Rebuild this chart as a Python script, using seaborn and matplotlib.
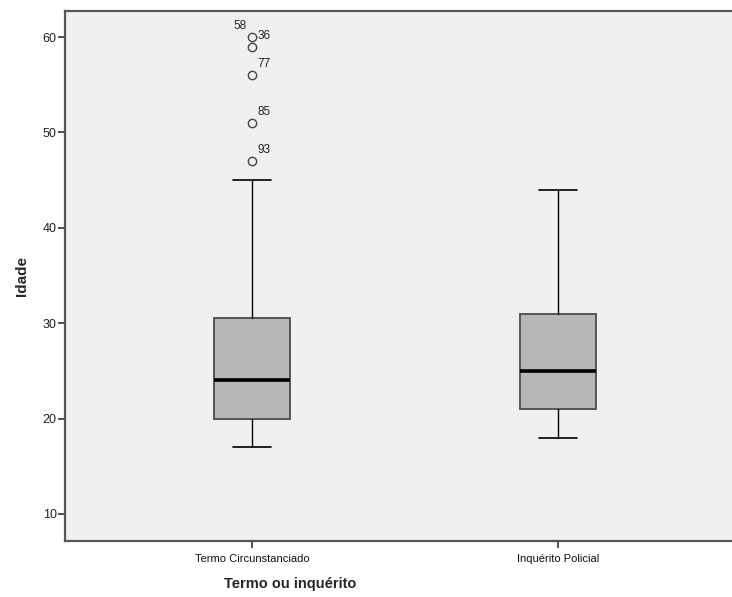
import matplotlib
matplotlib.use("Agg")
import matplotlib.pyplot as plt
import seaborn as sns
from matplotlib import font_manager

# Summary statistics per group (age)
categories = ["Termo Circunstanciado", "Inquérito Policial"]
whisker_low = [17, 18]
q1 = [20, 21]
median = [24, 25]
q3 = [30.5, 31]
whisker_high = [45, 44]

# Outliers of the first group, with their case numbers
outlier_values = [60, 59, 56, 51, 47]
outlier_cases = ["58", "36", "77", "85", "93"]
outlier_label_side = ["left", "right", "right", "right", "right"]

sns.set_theme(style="white")

available = {f.name for f in font_manager.fontManager.ttflist}
narrow = "Liberation Sans Narrow" if "Liberation Sans Narrow" in available else "Liberation Sans"
plt.rcParams["font.family"] = ["Liberation Sans", "DejaVu Sans"]

W, H = 732, 597
fig = plt.figure(figsize=(W / 100, H / 100), dpi=100)
fig.patch.set_facecolor("white")
left_px, right_px, top_px, bottom_px = 65, 745, 11, 541
ax = fig.add_axes([left_px / W, 1 - bottom_px / H,
                   (right_px - left_px) / W, (bottom_px - top_px) / H])
ax.set_facecolor("#f0f0f0")

stats = []
for i, name in enumerate(categories):
    stats.append(dict(
        label=name, whislo=whisker_low[i], q1=q1[i], med=median[i],
        q3=q3[i], whishi=whisker_high[i],
        fliers=outlier_values if i == 0 else [],
    ))

positions = list(range(len(categories)))
ax.bxp(
    stats, positions=positions, widths=0.248, capwidths=0.127,
    patch_artist=True, showfliers=True, manage_ticks=False,
    boxprops=dict(facecolor="#b7b7b7", edgecolor="#555555", linewidth=1.4),
    medianprops=dict(color="black", linewidth=2.6, solid_capstyle="butt"),
    whiskerprops=dict(color="black", linewidth=1.0),
    capprops=dict(color="black", linewidth=1.2),
    flierprops=dict(marker="o", markersize=6, markerfacecolor="none",
                    markeredgecolor="#444444", markeredgewidth=1.0),
)

for val, case, side in zip(outlier_values, outlier_cases, outlier_label_side):
    dx = -12 if side == "left" else 12
    ax.annotate(case, (positions[0], val), xytext=(dx, 11),
                textcoords="offset pixels", ha="center", va="center",
                fontsize=8.5, color="#222222")

ax.set_xlim(-187 / 306, 1 + (right_px - 558) / 306)
ax.set_ylim(10 - 27 / 9.54, 60 + 26 / 9.54)
ax.set_yticks([10, 20, 30, 40, 50, 60])
ax.set_xticks(positions)
ax.set_xticklabels(categories, fontfamily=[narrow, "DejaVu Sans"], fontsize=8)
ax.tick_params(axis="y", direction="out", length=5, width=1.2, color="#333333",
               labelsize=9, labelcolor="#222222", pad=1, left=True)
ax.tick_params(axis="x", direction="out", length=5, width=1.2, color="#333333",
               labelcolor="#111111", pad=4, bottom=True)

for side in ["left", "bottom", "top", "right"]:
    ax.spines[side].set_color("#555555")
    ax.spines[side].set_linewidth(1.6)

ax.set_ylabel("Idade", fontsize=11, fontweight="bold", labelpad=10)
ax.set_xlabel("")
fig.text(290 / W, 1 - 584 / H, "Termo ou inquérito", ha="center", va="center",
         fontsize=10.5, fontweight="bold", fontfamily=[narrow, "DejaVu Sans"])

fig.savefig("out.png", dpi=100, facecolor="white")
